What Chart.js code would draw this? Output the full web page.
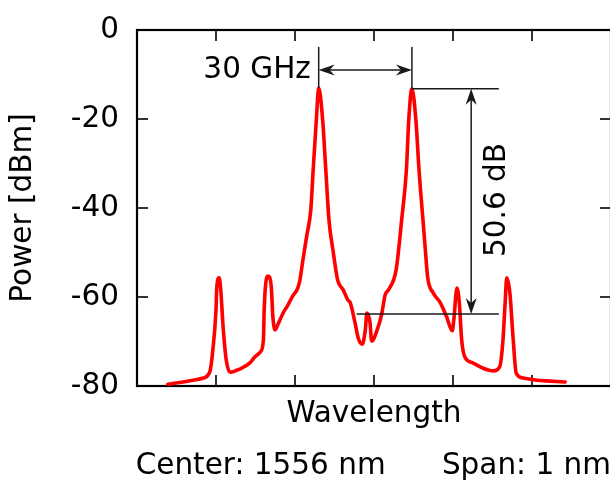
<!DOCTYPE html>
<html>
<head>
<meta charset="utf-8">
<script src="https://cdn.jsdelivr.net/npm/chart.js@4/dist/chart.umd.min.js"></script>
<style>
html,body{margin:0;padding:0;background:#fff;overflow:hidden;}
#wrap{width:612px;height:484px;}
</style>
</head>
<body>
<div id="wrap"><canvas id="c" width="612" height="484"></canvas></div>
<script>
// x in screen divisions (0..6), y in dBm
const wavelengthDiv = [0.39,0.71,0.84,0.92,0.96,1.00,1.01,1.04,1.06,1.09,1.13,1.18,1.30,1.43,1.49,1.56,1.60,1.61,1.63,1.66,1.70,1.72,1.75,1.78,1.85,1.91,1.97,2.03,2.06,2.10,2.15,2.20,2.23,2.27,2.30,2.35,2.39,2.43,2.48,2.54,2.61,2.67,2.70,2.76,2.80,2.85,2.89,2.91,2.95,2.97,3.04,3.10,3.14,3.19,3.28,3.35,3.41,3.44,3.48,3.53,3.57,3.62,3.65,3.68,3.75,3.84,3.92,3.99,4.01,4.05,4.08,4.11,4.15,4.25,4.38,4.51,4.59,4.63,4.66,4.68,4.72,4.76,4.80,4.89,5.06,5.23,5.42];
const powerDbm = [-79.6,-78.7,-78.2,-76.9,-71.9,-62.9,-57.8,-55.7,-58.4,-66.7,-74.2,-76.9,-76.2,-74.8,-73.5,-72.4,-69.7,-62.9,-56.9,-55.3,-57.8,-64.5,-67.4,-66.3,-63.6,-61.8,-59.8,-58.2,-56.4,-51.7,-46.1,-40.4,-31.5,-20.2,-13.0,-20.2,-31.5,-42.7,-49.4,-56.2,-58.4,-60.7,-61.3,-65.8,-69.2,-70.6,-67.4,-63.6,-65.8,-69.9,-67.4,-63.6,-59.6,-58.2,-53.9,-42.7,-31.5,-20.2,-13.2,-20.2,-31.5,-42.7,-49.4,-55.7,-59.1,-61.3,-64.5,-67.6,-65.2,-58.0,-61.3,-69.7,-73.5,-74.8,-76.0,-76.6,-75.7,-70.3,-61.3,-55.7,-59.1,-69.0,-77.1,-78.2,-78.7,-78.9,-79.1];
const yTicks = [-80,-60,-40,-20,0];
const xDivisions = [0,1,2,3,4,5,6];

// annotation anchors (data units)
const peakX = [2.30, 3.48];
const peakLevel = [-13.0, -13.2];
const floorLevel = -63.8;
const markerTop = -3.8;
const sepArrowLevel = -9.0;
const extEndX = 4.58;
const floorLineStartX = 2.78;
const dbArrowX = 4.23;
const sepLabel = '30 GHz';
const dbLabel = '50.6 dB';

const FONT = {family:'"DejaVu Sans", sans-serif', size:29.5, weight:'normal', lineHeight:1.2};

function arrowHead(ctx, tx, ty, dx, dy){
  const L=16, W=5.5, N=5;
  const px=-dy, py=dx;
  ctx.beginPath();
  ctx.moveTo(tx,ty);
  ctx.lineTo(tx-L*dx+W*px, ty-L*dy+W*py);
  ctx.lineTo(tx-(L-N)*dx, ty-(L-N)*dy);
  ctx.lineTo(tx-L*dx-W*px, ty-L*dy-W*py);
  ctx.closePath();
  ctx.fill();
}
function seg(ctx,x1,y1,x2,y2){ctx.beginPath();ctx.moveTo(x1,y1);ctx.lineTo(x2,y2);ctx.stroke();}

const framePlugin = {
  id:'frame',
  beforeDatasetsDraw(chart){
    const {ctx, chartArea:a, scales:{x,y}} = chart;
    ctx.save();
    ctx.strokeStyle='#000';
    ctx.lineWidth=2.2;
    ctx.strokeRect(a.left, a.top, a.right-a.left, a.bottom-a.top);
    ctx.lineWidth=1.6;
    const T=11;
    xDivisions.slice(1,-1).forEach(v=>{
      const px=x.getPixelForValue(v);
      seg(ctx,px,a.bottom,px,a.bottom-T);
      seg(ctx,px,a.top,px,a.top+T);
    });
    yTicks.slice(1,-1).forEach(v=>{
      const py=y.getPixelForValue(v);
      seg(ctx,a.left,py,a.left+T,py);
      seg(ctx,a.right,py,a.right-T,py);
    });
    ctx.restore();
  }
};

const annotPlugin = {
  id:'annot',
  afterDatasetsDraw(chart){
    const {ctx, scales:{x,y}} = chart;
    const X=v=>x.getPixelForValue(v), Y=v=>y.getPixelForValue(v);
    ctx.save();
    ctx.strokeStyle='#1a1a1a'; ctx.fillStyle='#1a1a1a'; ctx.lineWidth=1.5;
    peakX.forEach((p,i)=>seg(ctx,X(p),Y(markerTop),X(p),Y(peakLevel[i])));
    const ay=Y(sepArrowLevel), x1=X(peakX[0]), x2=X(peakX[1]);
    seg(ctx,x1+8,ay,x2-8,ay);
    arrowHead(ctx,x1,ay,-1,0);
    arrowHead(ctx,x2,ay,1,0);
    seg(ctx,X(peakX[1]),Y(peakLevel[1]),X(extEndX),Y(peakLevel[1]));
    seg(ctx,X(floorLineStartX),Y(floorLevel),X(extEndX),Y(floorLevel));
    const vx=X(dbArrowX), y1=Y(peakLevel[1]), y2=Y(floorLevel);
    seg(ctx,vx,y1+8,vx,y2-8);
    arrowHead(ctx,vx,y1,0,-1);
    arrowHead(ctx,vx,y2,0,1);
    ctx.fillStyle='#000';
    ctx.font='normal 29.5px "DejaVu Sans", sans-serif';
    ctx.textAlign='right'; ctx.textBaseline='alphabetic';
    ctx.fillText(sepLabel, X(2.20), Y(-10.8));
    ctx.save();
    ctx.translate(X(4.66), Y(-38.2));
    ctx.rotate(-Math.PI/2);
    ctx.textAlign='center';
    ctx.fillText(dbLabel, 0, 0);
    ctx.restore();
    ctx.restore();
  }
};

new Chart(document.getElementById('c'), {
  type:'line',
  data:{datasets:[{
    data: wavelengthDiv.map((v,i)=>({x:v, y:powerDbm[i]})),
    borderColor:'#ff0000', borderWidth:3.6, pointRadius:0, fill:false,
    borderJoinStyle:'round', borderCapStyle:'round',
    cubicInterpolationMode:'monotone', clip:false
  }]},
  options:{
    responsive:false, animation:false, devicePixelRatio:1,
    layout:{padding:{top:30,right:1,left:0,bottom:0}},
    plugins:{
      legend:{display:false}, tooltip:{enabled:false},
      subtitle:{display:true, position:'bottom', align:'end', fullSize:true,
        text:'Center: 1556 nm      Span: 1 nm', color:'#000', font:FONT, padding:{top:0,bottom:0}}
    },
    scales:{
      x:{type:'linear', min:0, max:6,
        grid:{display:false}, border:{display:false}, ticks:{display:false},
        title:{display:true, text:'Wavelength', color:'#000', font:FONT, padding:{top:0,bottom:17}},
        afterFit(s){s.height=62.6;}},
      y:{type:'linear', min:-80, max:0,
        afterBuildTicks(s){s.ticks=yTicks.map(v=>({value:v}));},
        grid:{display:false}, border:{display:false},
        ticks:{color:'#000', font:FONT, padding:10},
        title:{display:true, text:'Power [dBm]', color:'#000', font:FONT, padding:{top:6,bottom:0}},
        afterFit(s){s.width=137;}}
    }
  },
  plugins:[framePlugin, annotPlugin]
});
</script>
</body>
</html>
